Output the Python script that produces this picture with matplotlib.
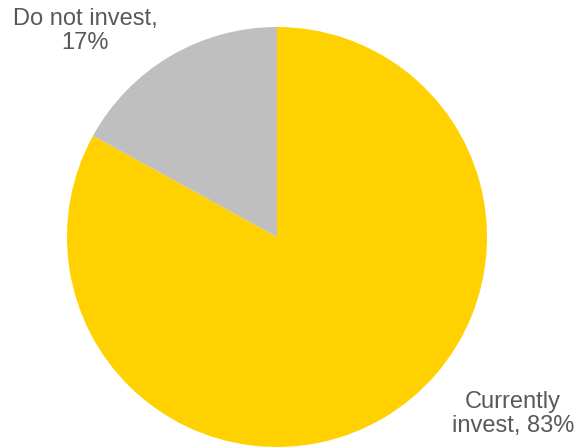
import matplotlib.pyplot as plt

labels = ["Currently\ninvest, 83%", "Do not invest,\n17%"]
shares = [83, 17]
colors = ["#FFD100", "#BFBFBF"]

plt.rcParams['font.family'] = ['Liberation Sans', 'DejaVu Sans']

W, H = 577, 448
fig = plt.figure(figsize=(W / 100, H / 100), dpi=100)

# pie centre (277, 237) px, radius 210 px
cx, cy, r = 277, 237, 210
ax = fig.add_axes([(cx - r) / W, (H - cy - r) / H, 2 * r / W, 2 * r / H])
ax.pie(shares, colors=colors, startangle=90, counterclock=False,
       wedgeprops=dict(linewidth=0), radius=1)
ax.set_xlim(-1, 1)
ax.set_ylim(-1, 1)
ax.set_aspect('equal')
ax.axis('off')

text_color = "#595959"
fig.text(85 / W, 1 - 31 / H, labels[1], ha='center', va='center',
         fontsize=17, color=text_color, linespacing=1.1)
fig.text(513 / W, 1 - 414 / H, labels[0], ha='center', va='center',
         fontsize=17, color=text_color, linespacing=1.1)

fig.savefig("out.png", dpi=100)
